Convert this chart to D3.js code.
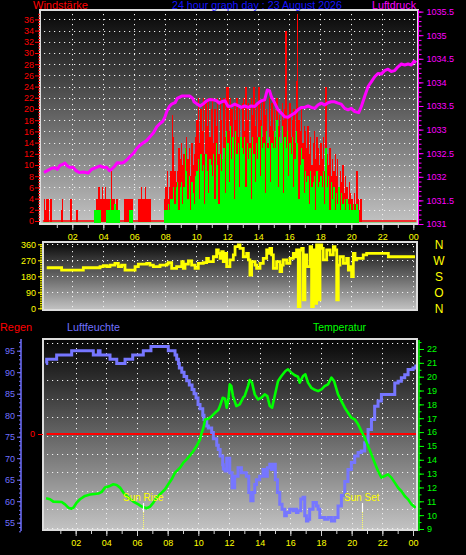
<!DOCTYPE html>
<html><head><meta charset="utf-8">
<script src="https://cdn.jsdelivr.net/npm/d3@7"></script>
<style>body{margin:0;background:#000}svg{display:block}</style>
</head><body>
<svg id="c" width="466" height="555"></svg>
<script>
// ---------------- DATA ----------------
const hourTicks = [2,4,6,8,10,12,14,16,18,20,22,24];
const hourLabels = ["02","04","06","08","10","12","14","16","18","20","22","00"];
const compassLabels = ["N","W","S","O","N"];
const compassValues = [360,270,180,90,0];

// wind gust (km/h), 5-minute samples, 12 per hour
const gustValues = [
 0,0,4,2,4,4,0,4,0,0,0,0,
 0,0,0,2,4,0,0,0,0,0,4,4,
 0,0,0,2,0,0,0,0,0,0,0,0,
 0,0,0,0,0,0,4,4,6,4,4,6,
 4,6,4,4,4,4,9,4,4,2,4,0,
 0,0,0,0,4,4,4,4,4,4,4,0,
 0,0,0,4,4,6,4,4,6,4,4,4,
 4,0,0,0,0,0,0,0,0,0,0,4,
 6,9,4,6,9,19,15,9,7,9,13,11,
 14,10,12,9,15,11,13,8,14,10,12,15,
 18,22,14,20,16,22,12,21,17,22,15,20,
 22,14,20,17,22,12,22,18,10,22,15,24,
 24,16,22,20,14,21,18,22,15,20,12,21,
 22,16,24,18,21,14,22,19,24,17,21,15,
 24,18,21,15,22,19,20,14,22,17,21,16,
 20,15,22,17,19,14,21,18,20,34,16,19,
 21,15,18,20,14,25,37,18,16,20,14,17,
 16,13,17,12,15,10,14,16,11,15,13,10,
 14,11,15,9,24,12,10,13,8,11,9,12,
 8,11,6,9,7,10,5,8,6,4,7,5,
 4,2,5,3,9,4,2,4,0,0,0,0,
 0,0,0,0,0,0,0,0,0,0,0,0,
 0,0,0,0,0,0,0,0,0,0,0,0,
 0,0,0,0,0,0,0,0,0,0,0,0
];
// mean wind (km/h), 5-minute samples
const meanValues = [
 0,0,0,0,0,0,0,0,0,0,0,0,
 0,0,0,0,0,0,0,0,0,0,0,0,
 0,0,0,0,0,0,0,0,0,0,0,0,
 0,0,0,0,0,2,2,2,2,2,0,0,
 0,0,2,2,2,4,2,2,3,3,2,2,
 2,0,0,0,0,0,0,0,2,2,2,0,
 0,0,0,0,0,0,0,0,0,0,0,0,
 0,0,0,0,0,0,0,0,0,0,0,2,
 2,2,3,2,4,4,6,3,6,7,2,6,
 7,3,6,13,9,4,8,2,7,5,3,8,
 9,11,4,12,9,10,3,12,9,5,11,10,
 8,12,4,14,10,3,12,9,11,13,5,16,
 14,7,17,11,15,4,16,12,14,6,15,13,
 12,15,6,14,11,13,4,15,12,7,14,11,
 15,8,17,13,14,5,16,13,15,7,14,13,
 16,13,18,6,15,14,17,5,15,13,16,8,
 14,12,15,6,11,16,14,4,10,13,11,5,
 9,7,8,3,9,6,7,8,2,9,6,7,
 8,6,9,3,13,6,8,2,7,4,6,2,
 5,3,6,2,5,3,4,2,4,3,2,3,
 2,3,2,2,3,2,0,0,0,0,0,0,
 0,0,0,0,0,0,0,0,0,0,0,0,
 0,0,0,0,0,0,0,0,0,0,0,0,
 0,0,0,0,0,0,0,0,0,0,0,0
];
// pressure [hour, hPa]
const pressureReadings = [
 [0.17,1032.09],[0.39,1032.13],[0.67,1032.18],[0.88,1032.19],[1.03,1032.16],[1.21,1032.24],[1.42,1032.27],[1.53,1032.29],
 [1.68,1032.23],[1.85,1032.20],[2.06,1032.20],[2.24,1032.13],[2.45,1032.09],[2.71,1032.10],[3.03,1032.08],[3.25,1032.16],
 [3.57,1032.20],[3.79,1032.23],[4.0,1032.20],[4.22,1032.20],[4.39,1032.13],[4.54,1032.16],[4.75,1032.23],[4.9,1032.30],
 [5.19,1032.29],[5.34,1032.31],[5.55,1032.37],[5.72,1032.43],[5.98,1032.51],[6.15,1032.60],[6.37,1032.67],[6.58,1032.72],
 [6.8,1032.77],[7.01,1032.85],[7.23,1032.93],[7.45,1033.06],[7.66,1033.13],[7.83,1033.17],[7.98,1033.27],[8.09,1033.38],
 [8.26,1033.49],[8.41,1033.54],[8.63,1033.57],[8.77,1033.66],[9.06,1033.71],[9.59,1033.71],[9.77,1033.66],[9.85,1033.59],
 [10.06,1033.54],[10.24,1033.50],[10.5,1033.56],[10.67,1033.61],[10.88,1033.64],[11.1,1033.63],[11.32,1033.61],[11.48,1033.56],
 [11.64,1033.59],[11.85,1033.61],[12.05,1033.49],[12.26,1033.50],[12.48,1033.54],[12.69,1033.51],[12.9,1033.47],[13.12,1033.50],
 [13.34,1033.47],[13.55,1033.50],[13.77,1033.49],[13.98,1033.56],[14.19,1033.61],[14.41,1033.63],[14.58,1033.84],[14.73,1033.82],
 [14.84,1033.70],[15.06,1033.56],[15.27,1033.42],[15.48,1033.35],[15.7,1033.27],[15.92,1033.26],[16.13,1033.31],[16.35,1033.35],
 [16.56,1033.42],[16.77,1033.47],[16.99,1033.47],[17.21,1033.50],[17.42,1033.47],[17.64,1033.45],[17.85,1033.52],[18.06,1033.56],
 [18.28,1033.52],[18.5,1033.57],[18.71,1033.59],[18.93,1033.59],[19.14,1033.56],[19.35,1033.54],[19.57,1033.45],[19.79,1033.42],
 [20.0,1033.45],[20.22,1033.38],[20.48,1033.36],[20.65,1033.49],[20.86,1033.70],[21.08,1033.91],[21.29,1034.01],[21.51,1034.12],
 [21.72,1034.19],[21.94,1034.18],[22.15,1034.25],[22.37,1034.28],[22.58,1034.23],[22.8,1034.25],[23.01,1034.33],[23.23,1034.39],
 [23.45,1034.37],[23.66,1034.39],[23.87,1034.37],[24.05,1034.45],[24.19,1034.42]
];
// wind direction [hour, degrees]
const directionReadings = [
 [0.35,228],[0.99,228],[1.31,215],[2.5,215],[2.71,228],[3.68,228],[3.79,234],[4.0,240],[4.22,234],[4.43,243],[4.75,253],
 [4.97,234],[5.18,243],[5.4,215],[5.83,215],[6.05,234],[6.26,249],[6.8,253],[7.01,243],[7.23,234],[7.66,243],[8.09,249],
 [8.19,257],[8.41,225],[8.73,234],[9.06,262],[9.16,225],[9.27,249],[9.49,266],[9.7,243],[9.92,225],[10.13,253],[10.45,257],
 [10.67,281],[10.78,262],[11.1,290],[11.31,328],[11.42,309],[11.53,281],[11.64,318],[11.74,262],[11.85,309],[11.96,234],
 [12.17,272],[12.39,300],[12.5,347],[12.71,356],[12.82,337],[13.03,290],[13.25,309],[13.36,272],[13.46,187],[13.57,262],
 [13.79,243],[13.89,225],[14.11,253],[14.32,281],[14.54,328],[14.65,309],[14.75,337],[14.86,300],[14.97,225],[15.18,262],
 [15.4,206],[15.51,243],[15.61,272],[15.83,253],[16.04,281],[16.26,309],[16.37,290],[16.47,328],[16.58,9],[16.69,328],
 [16.8,337],[16.9,47],[17.01,300],[17.12,234],[17.34,347],[17.44,9],[17.55,328],[17.66,28],[17.76,356],[17.87,47],
 [17.98,356],[18.09,337],[18.19,272],[18.41,328],[18.63,300],[18.84,347],[18.95,328],[19.06,47],[19.16,243],[19.27,290],
 [19.49,253],[19.7,281],[19.81,215],[19.92,234],[20.02,178],[20.13,309],[20.24,272],[20.34,281],[20.56,281],[20.77,300],
 [20.99,309],[22.28,309],[22.39,290],[24.11,290]
];
// relative humidity [hour, %]
const humidityReadings = [
 [0.07,92],[0.11,93],[0.76,94],[1.74,95],[3.15,94],[3.48,95],[3.59,94],[4.24,93],[4.68,92],[5.22,93],[5.72,94],
 [6.41,95],[6.91,96],[8.04,95],[8.48,94],[8.59,93],[8.7,92],[8.76,91],[8.92,90],[9.07,89],[9.24,88],[9.41,87],
 [9.59,86],[9.72,85],[9.85,84],[9.98,82.5],[10.11,81.5],[10.29,80],[10.37,79],[10.55,77.5],[10.65,77],[10.87,76],
 [10.98,74.5],[11.2,73],[11.3,72],[11.42,70.5],[11.59,68.5],[11.63,67.5],[11.74,67],[11.85,70],[12.05,66.6],
 [12.2,63.1],[12.37,65.8],[12.59,67.8],[12.81,66.6],[13.13,65.8],[13.29,62],[13.42,60.1],[13.57,62],[13.68,63.9],
 [13.79,65],[14.0,65.8],[14.22,67.4],[14.33,65.8],[14.5,67.8],[14.66,68.6],[14.76,67.4],[14.94,68.6],[15.02,65],
 [15.16,62],[15.31,59.3],[15.46,58.1],[15.63,56.6],[15.74,57.4],[15.96,58.1],[16.18,57.8],[16.29,58.1],[16.4,57.4],
 [16.5,57.8],[16.68,60.5],[16.83,60.9],[16.94,56.6],[17.05,55.4],[17.15,55.8],[17.26,58.1],[17.48,59.7],[17.7,58.9],
 [17.81,58.1],[17.92,56.2],[18.24,55.8],[18.46,56.2],[18.68,55.4],[18.89,56.2],[19.11,58.9],[19.33,61.3],[19.55,64.6],
 [19.76,67.4],[19.98,69],[20.2,70.5],[20.42,71.3],[20.63,71.7],[20.85,73.6],[21.07,76.7],[21.29,79],[21.5,82.1],
 [21.72,83.3],[21.94,84.8],[22.59,84.8],[22.81,87.5],[23.03,87.9],[23.24,88.7],[23.46,89.4],[23.68,90.6],[24.0,91],
 [24.18,91.8]
];
// temperature [hour, °C]
const temperatureReadings = [
 [0.07,11.22],[0.33,11.15],[0.54,10.98],[1.09,10.95],[1.31,10.78],[1.52,10.54],[1.74,10.47],[1.85,10.54],[2.07,10.91],
 [2.28,11.15],[2.61,11.39],[2.94,11.49],[3.48,11.56],[3.7,11.68],[3.91,11.99],[4.24,12.11],[4.46,12.23],[4.67,12.18],
 [4.89,11.99],[5.11,11.63],[5.43,11.27],[5.76,10.98],[6.09,10.78],[6.31,10.62],[6.63,10.5],[6.85,10.62],[7.07,10.91],
 [7.28,11.27],[7.61,11.63],[7.83,11.87],[8.04,12.23],[8.26,12.59],[8.48,13.07],[8.81,13.43],[9.02,13.79],[9.24,14.03],
 [9.46,14.32],[9.68,14.63],[9.89,14.99],[10.11,15.47],[10.22,15.95],[10.33,16.31],[10.44,16.91],[10.65,16.96],
 [10.87,17.15],[11.09,17.39],[11.3,17.59],[11.41,17.88],[11.59,18.48],[11.74,18.41],[11.85,17.76],[11.96,18.36],
 [12.05,19.45],[12.15,19.32],[12.26,18.6],[12.48,17.88],[12.7,18.0],[12.92,18.48],[13.02,18.6],[13.24,19.32],
 [13.35,19.76],[13.5,19.57],[13.68,18.72],[13.89,18.36],[14.11,18.48],[14.33,18.72],[14.5,18.6],[14.66,17.88],
 [14.81,17.76],[14.98,18.6],[15.2,19.69],[15.42,20.05],[15.68,20.41],[15.85,20.53],[16.07,20.29],[16.29,20.1],
 [16.5,20.0],[16.61,19.57],[16.83,20.05],[16.98,20.17],[17.15,19.57],[17.37,19.2],[17.55,19.08],[17.81,18.96],
 [18.03,19.08],[18.24,19.32],[18.46,19.45],[18.68,19.93],[18.85,19.69],[19.11,18.72],[19.33,18.24],[19.55,17.76],
 [19.76,17.4],[19.98,17.04],[20.2,16.92],[20.42,16.56],[20.63,16.08],[20.85,15.59],[21.07,14.99],[21.29,14.39],
 [21.5,13.79],[21.72,13.19],[21.94,12.71],[22.16,12.83],[22.37,12.95],[22.59,12.71],[22.81,12.35],[23.03,11.98],
 [23.24,11.74],[23.46,11.38],[23.68,11.14],[23.9,10.78],[24.18,10.54]
];
const rainValue = 0;
const sunEvents = [{label:"Sun Rise", h:6.41},{label:"Sun Set", h:20.66}];
const dataSpan = [0.1, 24.2];

// ---------------- DRAW ----------------
const FONT = "'Liberation Sans', Arial, sans-serif";
const svg = d3.select("#c");
const defs = svg.append("defs");
const grad = defs.append("linearGradient").attr("id","bg").attr("x1",0).attr("y1",0).attr("x2",0).attr("y2",1);
grad.append("stop").attr("offset","0%").attr("stop-color","#060606");
grad.append("stop").attr("offset","100%").attr("stop-color","#c3c3c3");

const P1 = {x0:40, y0:10, x1:418, y1:224};
const P2 = {x0:43, y0:242, x1:417, y1:310};
const P3 = {x0:43, y0:339, x1:417, y1:530};

// scales
const x = d3.scaleLinear().domain([0,24]).range([41.3,413.3]);
const xb = d3.scaleLinear().domain([0,24]).range([45,413]);
const yW = d3.scaleLinear().domain([0,36]).range([221,19.4]);
const yP = d3.scaleLinear().domain([1031,1035.5]).range([224,11.6]);
const yD = d3.scaleLinear().domain([0,360]).range([308.3,244.3]);
const yH = d3.scaleLinear().domain([55,95]).range([522.7,350.7]);
const yT = d3.scaleLinear().domain([9,22]).range([529,349]);
const yG = d3.scaleLinear().domain([0,10]).range([527.7,343.3]);
const yR = d3.scaleLinear().domain([0,5]).range([434,342]);

function panel(P, id){
  svg.append("rect").attr("x",P.x0).attr("y",P.y0).attr("width",P.x1-P.x0).attr("height",P.y1-P.y0).attr("fill","url(#bg)");
  defs.append("clipPath").attr("id",id).append("rect").attr("x",P.x0).attr("y",P.y0).attr("width",P.x1-P.x0).attr("height",P.y1-P.y0);
}
function border(P){
  svg.append("rect").attr("x",P.x0).attr("y",P.y0).attr("width",P.x1-P.x0).attr("height",P.y1-P.y0)
    .attr("fill","none").attr("stroke","#dcdcdc").attr("stroke-width",2);
}
function hgrid(P, vals, sc){
  svg.append("g").selectAll("line").data(vals).join("line")
    .attr("x1",P.x0+4).attr("x2",P.x1-2)
    .attr("y1",d=>Math.round(sc(d))+0.5).attr("y2",d=>Math.round(sc(d))+0.5)
    .attr("stroke","#f0f0f0").attr("stroke-width",1).attr("stroke-dasharray","1.2,3.8");
}
function vgrid(P, sc){
  svg.append("g").selectAll("line").data(hourTicks).join("line")
    .attr("y1",P.y0+4).attr("y2",P.y1-2)
    .attr("x1",d=>Math.round(sc(d))+0.5).attr("x2",d=>Math.round(sc(d))+0.5)
    .attr("stroke","#f0f0f0").attr("stroke-width",1).attr("stroke-dasharray","1.2,3.8");
}
function styleAxis(g, color, size){
  g.select(".domain").remove();
  g.selectAll("line").attr("stroke",color);
  g.selectAll("text").attr("fill",color).attr("font-family",FONT).attr("font-size",size||9);
}
function title(txt, xx, yy, len, color){
  svg.append("text").attr("x",xx).attr("y",yy).attr("fill",color).attr("font-family",FONT)
    .attr("font-size",11.5).attr("textLength",len).attr("lengthAdjust","spacingAndGlyphs").text(txt);
}

// ===== Panel 1: wind + pressure =====
panel(P1,"c1");
hgrid(P1, d3.range(2,37,2), yW);
vgrid(P1, x);
const g1 = svg.append("g").attr("clip-path","url(#c1)");
const bw = x(1/12)-x(0);
g1.append("line").attr("x1",x(dataSpan[0])).attr("x2",x(dataSpan[1])).attr("y1",yW(0)).attr("y2",yW(0)).attr("stroke","#ff0000").attr("stroke-width",1.5);
g1.append("line").attr("x1",x(dataSpan[0])).attr("x2",x(dataSpan[1])).attr("y1",yW(0)+2.3).attr("y2",yW(0)+2.3).attr("stroke","#00ff00").attr("stroke-width",1.3);
g1.append("g").selectAll("rect").data(gustValues.map((v,i)=>({v,i})).filter(d=>d.v>0)).join("rect")
  .attr("x",d=>x(d.i/12)).attr("width",bw+0.1)
  .attr("y",d=>yW(d.v)).attr("height",d=>yW(0)-yW(d.v)+1)
  .attr("fill","#ff0000").attr("shape-rendering","crispEdges");
g1.append("g").selectAll("rect").data(meanValues.map((v,i)=>({v,i})).filter(d=>d.v>0)).join("rect")
  .attr("x",d=>x(d.i/12)).attr("width",bw+0.1)
  .attr("y",d=>yW(d.v)).attr("height",d=>yW(0)-yW(d.v)+3)
  .attr("fill","#00ff00").attr("shape-rendering","crispEdges");
g1.append("path").datum(pressureReadings)
  .attr("d",d3.line().x(d=>x(d[0])).y(d=>yP(d[1])))
  .attr("fill","none").attr("stroke","#ff00ff").attr("stroke-width",3).attr("stroke-linejoin","round");
border(P1);

// wind axis (left)
styleAxis(svg.append("g").attr("transform","translate(40,0)")
  .call(d3.axisLeft(yW).tickValues(d3.range(0,37.5,0.5)).tickSize(2).tickFormat("")), "#ff0000");
styleAxis(svg.append("g").attr("transform","translate(40,0)")
  .call(d3.axisLeft(yW).tickValues(d3.range(0,37,2)).tickSize(5).tickPadding(1).tickFormat(d=>String(d))), "#ff0000");
// pressure axis (right)
svg.append("line").attr("x1",418.5).attr("x2",418.5).attr("y1",P1.y0).attr("y2",P1.y1+1).attr("stroke","#ff00ff").attr("stroke-width",1);
styleAxis(svg.append("g").attr("transform","translate(418.5,0)")
  .call(d3.axisRight(yP).tickValues(d3.range(0,46).map(i=>1031+i*0.1)).tickSize(3).tickFormat("")), "#ff00ff");
styleAxis(svg.append("g").attr("transform","translate(418.5,0)")
  .call(d3.axisRight(yP).tickValues(d3.range(0,10).map(i=>1031+i*0.5)).tickSize(5).tickPadding(3)
    .tickFormat(d=>d%1===0?String(d):d.toFixed(1))), "#ff00ff");
// x axis top
styleAxis(svg.append("g").attr("transform","translate(0,225)")
  .call(d3.axisBottom(x).tickValues(d3.range(1,25)).tickSize(3).tickFormat("")), "#cfcfcf");
const ax1 = svg.append("g").attr("transform","translate(0,225)")
  .call(d3.axisBottom(x).tickValues(hourTicks).tickSize(5).tickPadding(4).tickFormat((d,i)=>hourLabels[i]));
styleAxis(ax1, "#cfcfcf"); ax1.selectAll("text").attr("fill","#ffff00");

title("Windstärke", 33, 9, 55, "#ff0000");
title("24 hour graph day : 23 August 2026", 172, 9, 170, "#1414ff");
title("Luftdruck", 372, 9, 44, "#ff00ff");

// ===== Panel 2: wind direction =====
panel(P2,"c2");
hgrid(P2, [90,180,270,360], yD);
vgrid(P2, x);
const g2 = svg.append("g").attr("clip-path","url(#c2)");
g2.append("path").datum(directionReadings)
  .attr("d",d3.line().curve(d3.curveStepAfter).x(d=>x(d[0])).y(d=>yD(d[1])))
  .attr("fill","none").attr("stroke","#ffff00").attr("stroke-width",2.8);
border(P2);
styleAxis(svg.append("g").attr("transform","translate(42,0)")
  .call(d3.axisLeft(yD).tickValues(d3.range(0,361,10)).tickSize(2).tickFormat("")), "#ffff00");
styleAxis(svg.append("g").attr("transform","translate(42,0)")
  .call(d3.axisLeft(yD).tickValues([0,90,180,270,360]).tickSize(4).tickPadding(2).tickFormat(d=>String(d))), "#ffff00");
svg.append("g").selectAll("text").data(compassValues).join("text")
  .attr("x",439).attr("y",d=>yD(d)).attr("dy","0.36em").attr("text-anchor","middle")
  .attr("fill","#ffff00").attr("font-family",FONT).attr("font-size",12)
  .text((d,i)=>compassLabels[i]);

// ===== Panel 3: humidity, temperature, rain =====
panel(P3,"c3");
hgrid(P3, d3.range(0,11), yG);
vgrid(P3, xb);
const g3 = svg.append("g").attr("clip-path","url(#c3)");
g3.append("line").attr("x1",xb(dataSpan[0])).attr("x2",xb(dataSpan[1])).attr("y1",yR(rainValue)).attr("y2",yR(rainValue))
  .attr("stroke","#ff0000").attr("stroke-width",2);
g3.append("path").datum(humidityReadings)
  .attr("d",d3.line().curve(d3.curveStepAfter).x(d=>xb(d[0])).y(d=>yH(d[1])))
  .attr("fill","none").attr("stroke","#7676ff").attr("stroke-width",3);
g3.append("path").datum(temperatureReadings)
  .attr("d",d3.line().x(d=>xb(d[0])).y(d=>yT(d[1])))
  .attr("fill","none").attr("stroke","#00ff00").attr("stroke-width",2.6).attr("stroke-linejoin","round");
const sg = g3.append("g").selectAll("g").data(sunEvents).join("g");
sg.append("line").attr("x1",d=>Math.round(xb(d.h))+0.5).attr("x2",d=>Math.round(xb(d.h))+0.5)
  .attr("y1",503).attr("y2",512).attr("stroke","#ffffff").attr("stroke-width",1.2);
sg.append("line").attr("x1",d=>Math.round(xb(d.h))+0.5).attr("x2",d=>Math.round(xb(d.h))+0.5)
  .attr("y1",512).attr("y2",P3.y1).attr("stroke","#ffff66").attr("stroke-width",1).attr("stroke-dasharray","1,1");
sg.append("text").attr("x",d=>xb(d.h)).attr("y",501).attr("text-anchor","middle")
  .attr("fill","#ffff00").attr("font-family",FONT).attr("font-size",10).text(d=>d.label);
border(P3);

// humidity axis
svg.append("line").attr("x1",21).attr("x2",21).attr("y1",P3.y0).attr("y2",P3.y1+1).attr("stroke","#7070ff").attr("stroke-width",1.5);
styleAxis(svg.append("g").attr("transform","translate(21,0)")
  .call(d3.axisLeft(yH).tickValues(d3.range(53,98)).tickSize(2).tickFormat("")), "#7070ff");
styleAxis(svg.append("g").attr("transform","translate(21,0)")
  .call(d3.axisLeft(yH).tickValues(d3.range(55,96,5)).tickSize(4).tickPadding(2).tickFormat(d=>String(d))), "#7070ff");
// temperature axis
svg.append("line").attr("x1",419).attr("x2",419).attr("y1",P3.y0+1).attr("y2",P3.y1+1).attr("stroke","#00ff00").attr("stroke-width",1.5);
styleAxis(svg.append("g").attr("transform","translate(419,0)")
  .call(d3.axisRight(yT).tickValues(d3.range(0,28).map(i=>9+i*0.5)).tickSize(2.5).tickFormat("")), "#00ff00");
styleAxis(svg.append("g").attr("transform","translate(419,0)")
  .call(d3.axisRight(yT).tickValues(d3.range(9,23)).tickSize(5).tickPadding(3).tickFormat(d=>String(d))), "#00ff00");
// rain axis
styleAxis(svg.append("g").attr("transform","translate(43,0)")
  .call(d3.axisLeft(yR).tickValues([0]).tickSize(5).tickPadding(3).tickFormat(d=>String(d))), "#ff0000");
// x axis bottom
styleAxis(svg.append("g").attr("transform","translate(0,531)")
  .call(d3.axisBottom(xb).tickValues(d3.range(1,25)).tickSize(3).tickFormat("")), "#cfcfcf");
const ax3 = svg.append("g").attr("transform","translate(0,531)")
  .call(d3.axisBottom(xb).tickValues(hourTicks).tickSize(5).tickPadding(4).tickFormat((d,i)=>hourLabels[i]));
styleAxis(ax3, "#cfcfcf"); ax3.selectAll("text").attr("fill","#ffff00");

title("Regen", 0, 331, 32, "#ff0000");
title("Luftfeuchte", 67, 331, 53, "#7070ff");
title("Temperatur", 313, 331, 53, "#00ff00");
</script>
</body></html>
